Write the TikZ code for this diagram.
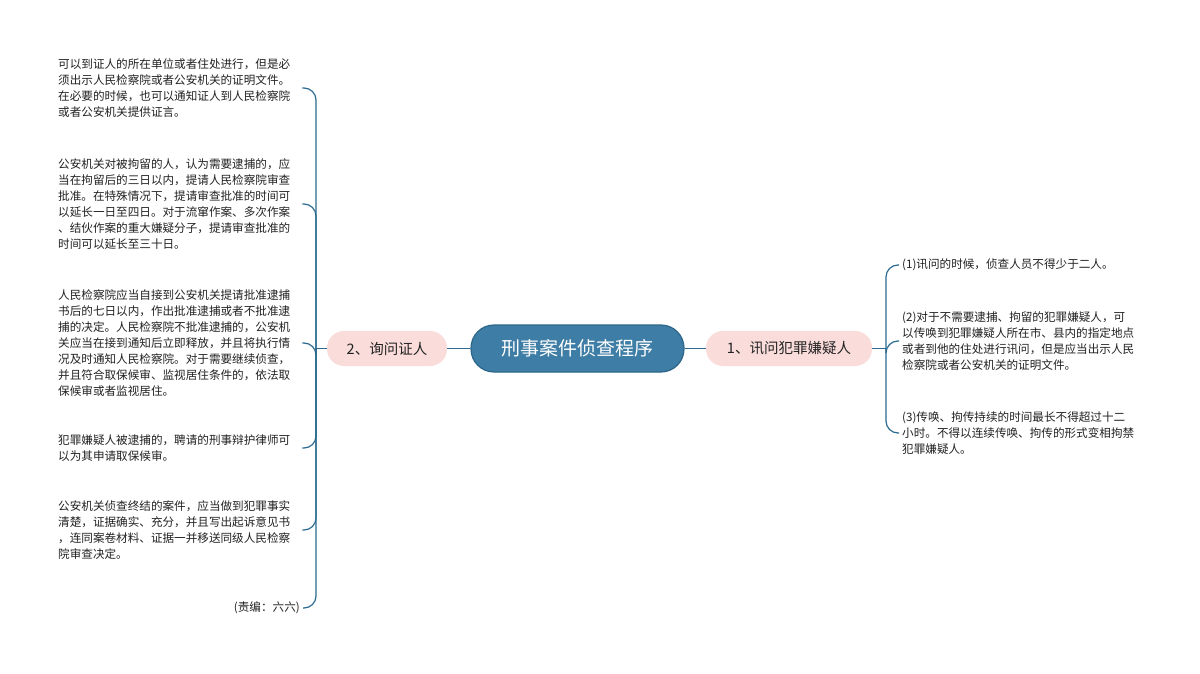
\documentclass[tikz,border=0pt]{standalone}
\usepackage{fontspec}
\setmainfont{Noto Sans CJK SC}
\definecolor{rootfill}{HTML}{3E7DA5}
\definecolor{rootdraw}{HTML}{2C668A}
\definecolor{pinkfill}{HTML}{FADCDB}
\definecolor{linec}{HTML}{2B6A8E}
\definecolor{txt}{HTML}{222222}
\tikzset{
  rootbox/.style={draw=rootdraw, line width=1.2pt, fill=rootfill, rounded corners=23pt, minimum width=213pt, minimum height=47pt, text=white, font=\fontsize{19}{22}\selectfont, inner sep=0pt},
  branchbox/.style={fill=pinkfill, rounded corners=17pt, minimum height=35pt, text=txt, font=\fontsize{14.5}{18}\selectfont, inner sep=0pt},
  leaf/.style={anchor=west, inner sep=3pt, text width=241pt, align=left, text=txt, font=\fontsize{11.6}{16}\selectfont},
  noteleaf/.style={anchor=east, inner sep=3pt, text=txt, font=\fontsize{11.6}{16}\selectfont},
  conn/.style={draw=linec, line width=1.2pt},
  elbow/.style={conn, rounded corners=12pt}
}
\begin{document}
\begin{tikzpicture}[x=1pt,y=-1pt]
\useasboundingbox[fill=white] (0,0) rectangle (1200,674);
% central and branch nodes
\node[rootbox] (root) at (577.5,348.5) {刑事案件侦查程序};
\node[branchbox, minimum width=120pt] (L) at (387,348.5) {2、询问证人};
\node[branchbox, minimum width=166pt] (R) at (789,348.5) {1、讯问犯罪嫌疑人};
\draw[conn] (root.west) -- (L.east);
\draw[conn] (root.east) -- (R.west);
% left leaves
\node[leaf] (l1) at (55,88) {可以到证人的所在单位或者住处进行，但是必\\须出示人民检察院或者公安机关的证明文件。\\在必要的时候，也可以通知证人到人民检察院\\或者公安机关提供证言。};
\node[leaf] (l2) at (55,204) {公安机关对被拘留的人，认为需要逮捕的，应\\当在拘留后的三日以内，提请人民检察院审查\\批准。在特殊情况下，提请审查批准的时间可\\以延长一日至四日。对于流窜作案、多次作案\\、结伙作案的重大嫌疑分子，提请审查批准的\\时间可以延长至三十日。};
\node[leaf] (l3) at (55,343) {人民检察院应当自接到公安机关提请批准逮捕\\书后的七日以内，作出批准逮捕或者不批准逮\\捕的决定。人民检察院不批准逮捕的，公安机\\关应当在接到通知后立即释放，并且将执行情\\况及时通知人民检察院。对于需要继续侦查，\\并且符合取保候审、监视居住条件的，依法取\\保候审或者监视居住。};
\node[leaf] (l4) at (55,448) {犯罪嫌疑人被逮捕的，聘请的刑事辩护律师可\\以为其申请取保候审。};
\node[leaf] (l5) at (55,530) {公安机关侦查终结的案件，应当做到犯罪事实\\清楚，证据确实、充分，并且写出起诉意见书\\，连同案卷材料、证据一并移送同级人民检察\\院审查决定。};
\node[noteleaf] (l6) at (303,608) {(责编：六六)};
\coordinate (lt) at (316,348.5);
\draw[conn] (L.west) -- (lt);
\foreach \n in {l1,l2,l3,l4,l5,l6} {\draw[elbow] (lt) |- (\n.east);}
% right leaves
\node[leaf] (r1) at (899,265) {(1)讯问的时候，侦查人员不得少于二人。};
\node[leaf] (r2) at (899,341) {(2)对于不需要逮捕、拘留的犯罪嫌疑人，可\\以传唤到犯罪嫌疑人所在市、县内的指定地点\\或者到他的住处进行讯问，但是应当出示人民\\检察院或者公安机关的证明文件。};
\node[leaf] (r3) at (899,433) {(3)传唤、拘传持续的时间最长不得超过十二\\小时。不得以连续传唤、拘传的形式变相拘禁\\犯罪嫌疑人。};
\coordinate (rt) at (886,348.5);
\draw[conn] (R.east) -- (rt);
\foreach \n in {r1,r2,r3} {\draw[elbow] (rt) |- (\n.west);}
\end{tikzpicture}
\end{document}
